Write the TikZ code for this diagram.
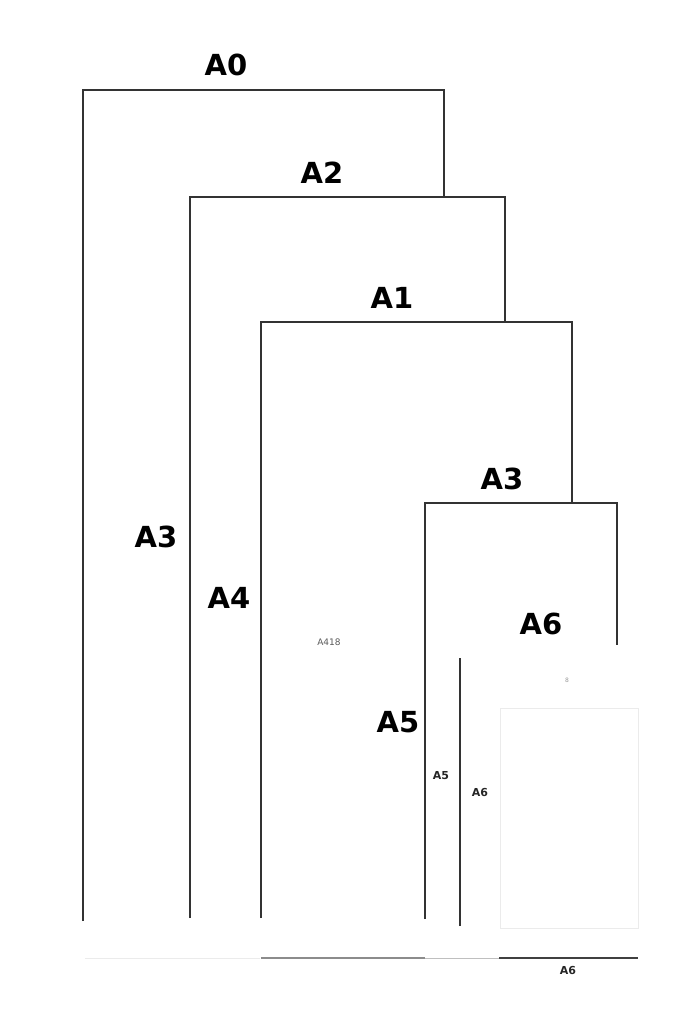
\documentclass[tikz,border=0pt]{standalone}
\usepackage{fontspec}
\setmainfont{DejaVu Sans}
\usepackage{tikz}
\usetikzlibrary{positioning}
\tikzstyle{frame} = [line width=1.6pt, draw=black!80]
\tikzstyle{bigname} = [font=\fontsize{29}{30}\selectfont\bfseries, text=black]
\tikzstyle{smallname} = [font=\fontsize{11}{12}\selectfont\bfseries, text=black!85]
\tikzstyle{tinyname} = [font=\fontsize{9}{10}\selectfont, text=black!65]
\tikzstyle{faint} = [line width=0.6pt, draw=black!8]

\begin{document}
\begin{tikzpicture}[x=1pt, y=-1pt]
        \useasboundingbox (0,0) rectangle (699,1024);
        % Frames
        \draw [frame] (83,921) -- (83,90) -- (444,90) -- (444,197);
        \draw [frame] (190,918) -- (190,197) -- (505,197) -- (505,322);
        \draw [frame] (261,918) -- (261,322) -- (572,322) -- (572,503);
        \draw [frame] (425,919) -- (425,503) -- (617,503) -- (617,645);
        \draw [frame] (460,926) -- (460,658);
        \draw [faint] (500,708) rectangle (638,928);

        % Base lines
        \draw [faint] (85,958) -- (260,958);
        \draw [line width=1.2pt, draw=black!45] (261,958) -- (425,958);
        \draw [line width=1pt, draw=black!25] (425,958) -- (499,958);
        \draw [line width=1.6pt, draw=black!75] (499,958) -- (638,958);

        % Labels
        \node (nameA0) [bigname] at (226,65) {A0};
        \node (nameA2) [bigname] at (322,173) {A2};
        \node (nameA1) [bigname] at (392,298) {A1};
        \node (nameA3top) [bigname] at (502,479) {A3};
        \node (nameA3side) [bigname] at (156,537) {A3};
        \node (nameA4) [bigname] at (229,598) {A4};
        \node (nameA5) [bigname] at (398,722) {A5};
        \node (nameA6) [bigname] at (541,624) {A6};
        \node (nameA418) [tinyname] at (329,642) {A418};
        \node (nameeight) [tinyname, font=\fontsize{6}{7}\selectfont, text=black!40] at (567,680) {8};
        \node (smallA5) [smallname] at (441,776) {A5};
        \node (smallA6) [smallname] at (480,792) {A6};
        \node (baseA6) [smallname] at (568,970) {A6};

    \end{tikzpicture}
\end{document}
